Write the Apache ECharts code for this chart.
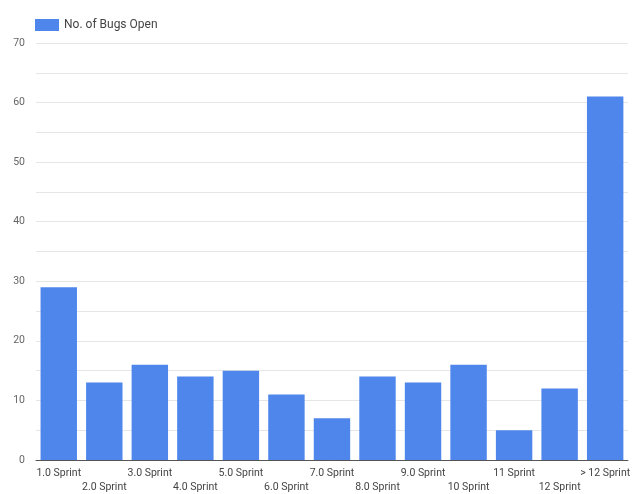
<!DOCTYPE html>
<html>
<head>
<meta charset="utf-8">
<script src="https://cdn.jsdelivr.net/npm/echarts@6/dist/echarts.min.js"></script>
<style>
html,body{margin:0;padding:0;background:#fff;overflow:hidden;}
#c{width:633px;height:494px;}
</style>
</head>
<body>
<div id="c"></div>
<script>
const categories = ['1.0 Sprint','2.0 Sprint','3.0 Sprint','4.0 Sprint','5.0 Sprint','6.0 Sprint','7.0 Sprint','8.0 Sprint','9.0 Sprint','10 Sprint','11 Sprint','12 Sprint','> 12 Sprint'];
const bugsOpen = [29, 13, 16, 14, 15, 11, 7, 14, 13, 16, 5, 12, 61];
const seriesName = 'No. of Bugs Open';

const chart = echarts.init(document.getElementById('c'));
chart.setOption({
  animation: false,
  textStyle: { fontFamily: 'Roboto' },
  legend: {
    left: 30, top: 14,
    itemWidth: 24, itemHeight: 12, itemGap: 10,
    icon: 'rect',
    textStyle: { fontSize: 12, color: '#444', fontFamily: 'Roboto' },
    data: [seriesName]
  },
  grid: { left: 36, right: 1, top: 43, bottom: 31, containLabel: false },
  xAxis: {
    type: 'category',
    data: categories,
    axisTick: { show: false },
    axisLine: { lineStyle: { color: '#555', width: 1 } },
    axisLabel: {
      interval: 0,
      fontSize: 10.5,
      color: '#444',
      margin: 6,
      lineHeight: 14,
      formatter: (v, i) => (i % 2 ? '\n' + v : v)
    }
  },
  yAxis: {
    type: 'value',
    min: 0, max: 70, interval: 10,
    axisLine: { show: false },
    axisTick: { show: false },
    axisLabel: { fontSize: 10.5, color: '#666', margin: 11 },
    splitLine: { lineStyle: { color: '#e6e6e6' } },
    minorTick: { show: false, splitNumber: 2 },
    minorSplitLine: { show: true, lineStyle: { color: '#e6e6e6' } }
  },
  series: [{
    name: seriesName,
    type: 'bar',
    data: bugsOpen,
    barCategoryGap: '20%',
    itemStyle: { color: '#4f86ec' }
  }]
});
</script>
</body>
</html>
